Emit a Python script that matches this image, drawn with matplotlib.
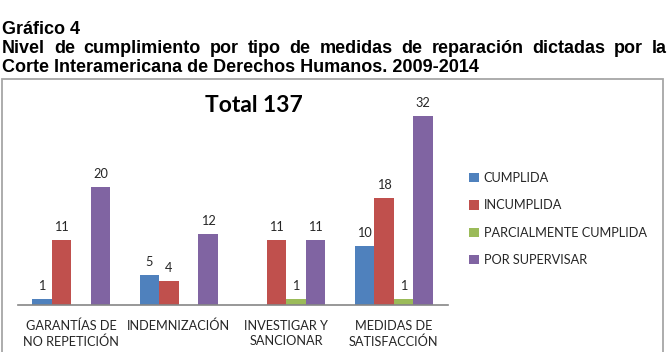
import numpy as np
import matplotlib
matplotlib.use('Agg')
from matplotlib import pyplot as plt
from matplotlib.patches import Rectangle

# data
categories = ['GARANTÍAS DE\nNO REPETICIÓN', 'INDEMNIZACIÓN',
              'INVESTIGAR Y\nSANCIONAR', 'MEDIDAS DE\nSATISFACCIÓN']
series_names = ['CUMPLIDA', 'INCUMPLIDA', 'PARCIALMENTE CUMPLIDA', 'POR SUPERVISAR']
cumplida = [1, 5, 0, 10]
incumplida = [11, 4, 11, 18]
parcial = [0, 0, 1, 1]
supervisar = [20, 12, 11, 32]
colors = ['#4F81BD', '#C0504D', '#9BBB59', '#8064A2']

title1 = 'Gráfico 4'
title2 = 'Nivel de cumplimiento por tipo de medidas de reparación dictadas por la'
title3 = 'Corte Interamericana de Derechos Humanos. 2009-2014'
chart_title = 'Total 137'

W, H = 671, 352
fig = plt.figure(figsize=(W / 100, H / 100), dpi=100)

title_font = dict(family=['Liberation Sans', 'DejaVu Sans'],
                  fontsize=13, fontweight='bold', color='black')
chart_font = ['Lato', 'DejaVu Sans']
fs = 9.2

# heading lines
fig.text(2 / W, 1 - 34 / H, title1, va='baseline', ha='left', **title_font)
fig.text(2 / W, 1 - 72 / H, title3, va='baseline', ha='left', **title_font)

# justified middle line
words = title2.split()
word_texts = [fig.text(0, 1 - 53 / H, w, va='baseline', ha='left', **title_font)
              for w in words]
fig.canvas.draw()
renderer = fig.canvas.get_renderer()
widths = [t.get_window_extent(renderer).width for t in word_texts]
left, right = 2, 667
gap = (right - left - sum(widths)) / (len(words) - 1)
x = left
for t, w in zip(word_texts, widths):
    t.set_x(x / W)
    x += w + gap

# chart border
fig.patches.append(Rectangle((2 / W, -0.1), 661 / W, 0.1 + (H - 79) / H,
                             transform=fig.transFigure, fill=False,
                             edgecolor='#A6A6A6', linewidth=1.3))

# plot area
px_per_unit = 5.92
ax_h = 200
ax = fig.add_axes([17.5 / W, 1 - 305 / H, 430 / W, ax_h / H])
ax.set_ylim(0, ax_h / px_per_unit)
ax.set_xlim(-0.5, len(categories) - 0.5)

xs = np.arange(len(categories))
bw = 19.5 / 107.5
all_series = [cumplida, incumplida, parcial, supervisar]
for k, (vals, name, c) in enumerate(zip(all_series, series_names, colors)):
    pos = xs + (k - 1.5) * bw
    bars = ax.bar(pos, vals, width=bw, color=c, label=name, linewidth=0)
    for b, v in zip(bars, vals):
        if v > 0:
            ax.annotate(str(v), (b.get_x() + b.get_width() / 2, v),
                        xytext=(0, 5), textcoords='offset points',
                        ha='center', va='bottom', fontsize=fs,
                        family=chart_font, color='#262626')

for s in ['top', 'left', 'right']:
    ax.spines[s].set_visible(False)
ax.spines['bottom'].set_color('#868686')
ax.spines['bottom'].set_linewidth(1.2)
ax.set_yticks([])
ax.set_xticks(xs)
ax.set_xticklabels(categories, fontsize=fs, family=chart_font,
                   color='#262626', linespacing=1.35)
ax.tick_params(axis='x', length=0, pad=10.5)
ax.patch.set_alpha(0)

fig.text(254 / W, 1 - 106 / H, chart_title, ha='center', va='center',
         fontsize=16.5, fontweight='bold', family=chart_font)

leg = fig.legend(loc='upper left', bbox_to_anchor=(469 / W, 1 - 172 / H),
                 frameon=False, prop={'family': chart_font, 'size': fs},
                 handlelength=0.75, handleheight=0.75, handletextpad=0.4,
                 labelspacing=1.2, borderpad=0, borderaxespad=0)
for t in leg.get_texts():
    t.set_color('#262626')

fig.savefig('out.png', dpi=100)
